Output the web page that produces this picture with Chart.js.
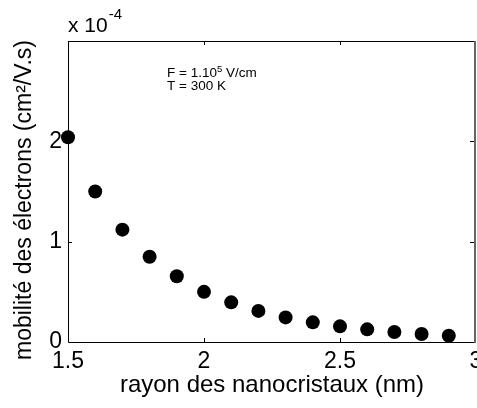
<!DOCTYPE html>
<html><head><meta charset="utf-8">
<script src="https://cdn.jsdelivr.net/npm/chart.js@4"></script>
<style>html,body{margin:0;padding:0;background:#fff;overflow:hidden}#c{display:block}</style>
</head><body>
<canvas id="c" width="477" height="408"></canvas>
<script>
// rayon des nanocristaux (nm)
const radii = [1.5, 1.6, 1.7, 1.8, 1.9, 2.0, 2.1, 2.2, 2.3, 2.4, 2.5, 2.6, 2.7, 2.8, 2.9];
// mobilité des électrons, in units of 1e-4 cm²/V.s
const mobility = [2.04, 1.50, 1.12, 0.85, 0.655, 0.50, 0.395, 0.31, 0.245, 0.196, 0.156, 0.126, 0.10, 0.08, 0.063];
const xTickValues = [1.5, 2, 2.5, 3];
const xTickLabels = ['1.5', '2', '2.5', '3'];
const yTickValues = [0, 1, 2, 3];
const yTickLabels = ['0', '1', '2', ''];
const xTitle = 'rayon des nanocristaux (nm)';
const yTitle = 'mobilité des électrons (cm²/V.s)';
const exponentBase = 'x 10';
const exponentPower = '-4';
const noteLine1 = ['F = 1.10', '5', ' V/cm'];
const noteLine2 = 'T = 300 K';

const FONT = "'Liberation Sans', Arial, sans-serif";

const framePlugin = {
  id: 'frame',
  beforeDatasetsDraw(chart) {
    const {ctx, chartArea: a, scales: {x, y}} = chart;
    ctx.save();
    ctx.strokeStyle = '#000';
    ctx.lineWidth = 1;
    ctx.beginPath();
    ctx.moveTo(a.left + 0.5, a.top + 0.5);
    ctx.lineTo(a.right - 0.5, a.top + 0.5);
    ctx.moveTo(a.left + 0.5, a.top);
    ctx.lineTo(a.left + 0.5, a.bottom + 0.5);
    ctx.lineTo(a.right, a.bottom + 0.5);
    ctx.stroke();
    ctx.strokeStyle = '#666';
    ctx.lineWidth = 2;
    ctx.beginPath();
    ctx.moveTo(a.right - 1, a.top);
    ctx.lineTo(a.right - 1, a.bottom + 1);
    ctx.stroke();
    // inner ticks
    ctx.strokeStyle = '#000';
    ctx.lineWidth = 1;
    const tl = 4;
    ctx.beginPath();
    xTickValues.forEach(v => {
      const px = Math.round(x.getPixelForValue(v)) + 0.5;
      if (px <= a.left + 1 || px >= a.right - 1) return;
      ctx.moveTo(px, a.bottom); ctx.lineTo(px, a.bottom - tl);
      ctx.moveTo(px, a.top); ctx.lineTo(px, a.top + tl);
    });
    yTickValues.forEach(v => {
      const py = Math.round(y.getPixelForValue(v)) + 0.5;
      if (py <= a.top + 1 || py >= a.bottom - 1) return;
      ctx.moveTo(a.left, py); ctx.lineTo(a.left + tl, py);
      ctx.moveTo(a.right - 2, py); ctx.lineTo(a.right - 2 - tl, py);
    });
    ctx.stroke();
    ctx.restore();
  },
  afterDraw(chart) {
    const {ctx, chartArea: a} = chart;
    ctx.save();
    ctx.fillStyle = '#000';
    // y axis title
    ctx.save();
    ctx.translate(25, 200);
    ctx.rotate(-Math.PI / 2);
    ctx.textAlign = 'center';
    ctx.textBaseline = 'middle';
    ctx.font = '23px ' + FONT;
    ctx.fillText(yTitle, 0, 0);
    ctx.restore();

    ctx.textBaseline = 'alphabetic';
    ctx.textAlign = 'left';
    // exponent label
    ctx.font = '21px ' + FONT;
    const bx = a.left, by = 32;
    ctx.fillText(exponentBase, bx, by);
    const w = ctx.measureText(exponentBase).width;
    ctx.font = '15px ' + FONT;
    ctx.fillText(exponentPower, bx + w + 1, by - 13);
    // note
    const nx = 167, ny = 77;
    ctx.font = '13.5px ' + FONT;
    ctx.fillText(noteLine1[0], nx, ny);
    const w1 = ctx.measureText(noteLine1[0]).width;
    ctx.font = '9.5px ' + FONT;
    ctx.fillText(noteLine1[1], nx + w1, ny - 5);
    const w2 = ctx.measureText(noteLine1[1]).width;
    ctx.font = '13.5px ' + FONT;
    ctx.fillText(noteLine1[2], nx + w1 + w2, ny);
    ctx.fillText(noteLine2, nx, ny + 13);
    ctx.restore();
  }
};

new Chart(document.getElementById('c'), {
  type: 'scatter',
  data: {
    datasets: [{
      data: radii.map((r, i) => ({x: r, y: mobility[i]})),
      backgroundColor: '#000',
      borderColor: '#000',
      pointRadius: 7,
      pointHoverRadius: 7,
      borderWidth: 0,
      showLine: false,
      clip: false
    }]
  },
  options: {
    responsive: false,
    devicePixelRatio: 1,
    animation: false,
    events: [],
    layout: {autoPadding: false, padding: {top: 41, right: 1, left: 0, bottom: 0}},
    plugins: {legend: {display: false}, tooltip: {enabled: false}, title: {display: false}},
    scales: {
      x: {
        type: 'linear', min: 1.5, max: 3,
        afterBuildTicks: s => { s.ticks = xTickValues.map(v => ({value: v})); },
        afterFit: s => { s.height = 66; s.paddingLeft = 0; s.paddingRight = 0; },
        grid: {display: false, drawTicks: false},
        border: {display: false},
        ticks: {
          color: '#000', font: {family: FONT, size: 23}, padding: 6, maxRotation: 0,
          autoSkip: false,
          callback: (v) => { const i = xTickValues.indexOf(v); return i >= 0 ? xTickLabels[i] : ''; }
        },
        title: {display: true, text: xTitle, color: '#000', font: {family: FONT, size: 24}, padding: {top: 0, bottom: 8}}
      },
      y: {
        type: 'linear', min: 0, max: 3,
        afterBuildTicks: s => { s.ticks = yTickValues.map(v => ({value: v})); },
        afterFit: s => { s.width = 68; s.paddingTop = 0; s.paddingBottom = 0; },
        grid: {display: false, drawTicks: false},
        border: {display: false},
        ticks: {
          color: '#000', font: {family: FONT, size: 23}, padding: 6,
          autoSkip: false,
          callback: (v) => { const i = yTickValues.indexOf(v); return i >= 0 ? yTickLabels[i] : ''; }
        },
        title: {display: false, text: yTitle}
      }
    }
  },
  plugins: [framePlugin]
});
</script>
</body></html>
